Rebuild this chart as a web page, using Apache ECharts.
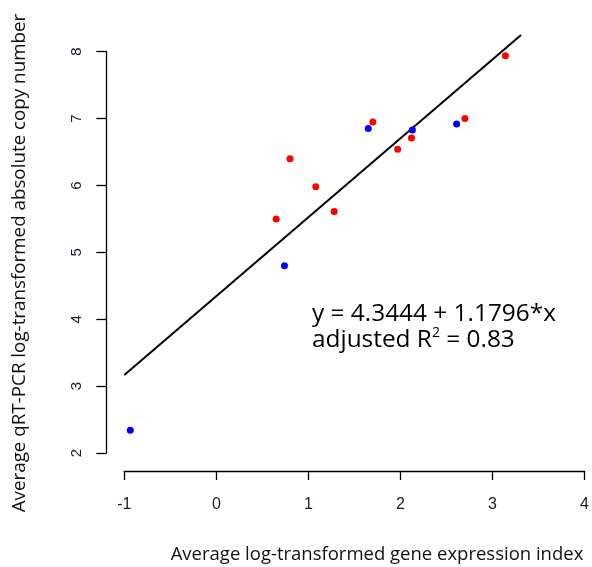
<!DOCTYPE html>
<html>
<head>
<meta charset="utf-8">
<script src="https://cdn.jsdelivr.net/npm/echarts@6/dist/echarts.min.js"></script>
<style>
html,body{margin:0;padding:0;background:#fff;}
#c{width:592px;height:567px;}
</style>
</head>
<body>
<div id="c"></div>
<script>
// Red group points [x, y]
const redX = [0.65, 0.80, 1.08, 1.28, 1.70, 1.97, 2.12, 2.70, 3.14];
const redY = [5.50, 6.40, 5.98, 5.61, 6.95, 6.54, 6.71, 7.00, 7.94];
// Blue group points [x, y]
const blueX = [-0.935, 0.74, 1.65, 2.13, 2.61];
const blueY = [2.34, 4.80, 6.85, 6.83, 6.92];
// Regression line: y = intercept + slope * x, drawn over this x span
const intercept = 4.3444;
const slope = 1.1796;
const lineX = [-1, 3.31];
const xTicks = [-1, 0, 1, 2, 3, 4];
const yTicks = [2, 3, 4, 5, 6, 7, 8];
const xTitle = 'Average log-transformed gene expression index';
const yTitle = 'Average qRT-PCR log-transformed absolute copy number';
const eqLine1 = 'y = 4.3444 + 1.1796*x';
const eqLine2a = 'adjusted R';
const eqSup = '2';
const eqLine2b = ' = 0.83';

const chart = echarts.init(document.getElementById('c'), null, {renderer: 'canvas'});
const pts = (xs, ys) => xs.map((x, i) => [x, ys[i]]);
const tickFont = 'Liberation Sans';
const titleFont = 'Open Sans';

chart.setOption({
  animation: false,
  backgroundColor: '#fff',
  grid: {left: 124.3, right: 5.3, top: 51.7, bottom: 114},
  xAxis: {
    type: 'value', min: xTicks[0], max: xTicks[xTicks.length - 1], interval: 1,
    position: 'bottom', offset: 18,
    axisLine: {show: true, onZero: false, lineStyle: {color: '#000', width: 1.3}},
    axisTick: {show: true, length: 9, lineStyle: {color: '#000', width: 1.3}},
    axisLabel: {color: '#1a1a2e', fontFamily: tickFont, fontSize: 16, margin: 26},
    splitLine: {show: false}
  },
  yAxis: {
    type: 'value', min: yTicks[0], max: yTicks[yTicks.length - 1], interval: 1,
    position: 'left', offset: 18,
    axisLine: {show: true, onZero: false, lineStyle: {color: '#000', width: 1.3}},
    axisTick: {show: true, length: 10, lineStyle: {color: '#000', width: 1.3}},
    axisLabel: {color: '#1a1a2e', fontFamily: tickFont, fontSize: 15, rotate: 90,
                align: 'center', verticalAlign: 'middle', margin: 29},
    splitLine: {show: false}
  },
  graphic: [
    {type: 'text', x: 377, y: 555, style: {text: xTitle, font: '18.5px "Open Sans"', fill: '#111', textAlign: 'center', textVerticalAlign: 'middle'}},
    {type: 'text', x: 20, y: 263, rotation: Math.PI / 2, style: {text: yTitle, font: '18.8px "Open Sans"', fill: '#111', textAlign: 'center', textVerticalAlign: 'middle'}},
    {type: 'text', x: 312, y: 314, style: {text: eqLine1, font: '24.4px "Open Sans"', fill: '#000', textAlign: 'left', textVerticalAlign: 'middle'}},
    {type: 'text', x: 312, y: 340, style: {
      text: '{a|' + eqLine2a + '}{s|' + eqSup + '}{a|' + eqLine2b + '}',
      rich: {
        a: {fontFamily: titleFont, fontSize: 24.4, fill: '#000', lineHeight: 28, verticalAlign: 'middle'},
        s: {fontFamily: titleFont, fontSize: 14, fill: '#000', lineHeight: 28, verticalAlign: 'top'}
      },
      textAlign: 'left', textVerticalAlign: 'middle'
    }}
  ],
  series: [
    {type: 'line', data: lineX.map(x => [x, intercept + slope * x]), showSymbol: false, symbol: 'none', clip: false,
     lineStyle: {color: '#000', width: 2}, z: 1},
    {type: 'scatter', data: pts(redX, redY), symbolSize: 7, itemStyle: {color: '#ff0000', opacity: 1}, z: 3},
    {type: 'scatter', data: pts(blueX, blueY), symbolSize: 7, itemStyle: {color: '#0000ff', opacity: 1}, z: 3}
  ]
});
</script>
</body>
</html>
